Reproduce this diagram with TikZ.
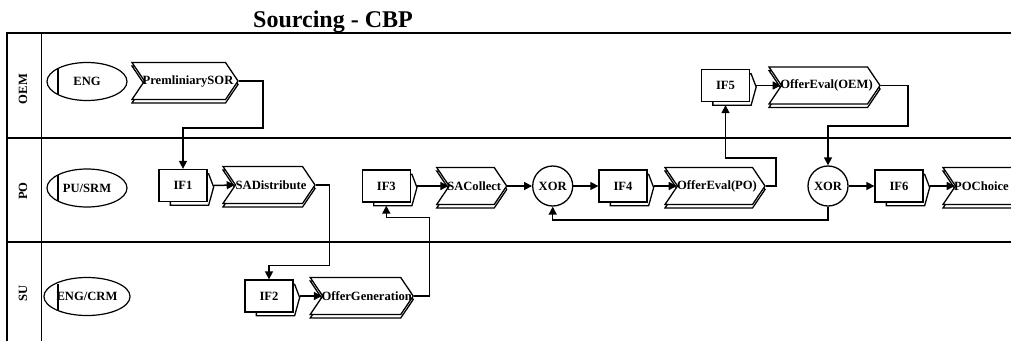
\documentclass[tikz,border=0pt]{standalone}
\usepackage{fontspec}
\setmainfont{Liberation Serif}
\usetikzlibrary{shapes.symbols,shapes.geometric,shadows,arrows.meta,calc}
\pgfdeclarelayer{background}
\pgfsetlayers{background,main}
\tikzset{
  nodefont/.style={font=\fontsize{12.6}{12.6}\selectfont\bfseries},
  frame/.style={line width=1.8pt},
  role/.style={ellipse, draw, line width=1.2pt, minimum width=80pt, minimum height=38pt, inner sep=0pt, nodefont},
  chord/.style={line width=1.2pt},
  chev/.style={signal, signal from=west, signal to=east, signal pointer angle=112, draw, line width=1.3pt, fill=white,
    minimum height=37pt, inner sep=0pt, nodefont,
    drop shadow={shadow xshift=0pt, shadow yshift=-3.5pt, fill=white, draw=black, line width=1.3pt, opacity=1}},
  ifbox/.style={rectangle, draw, fill=white, line width=1.3pt, minimum width=48pt, minimum height=32pt, inner sep=0pt, nodefont},
  ifback/.style={draw, fill=white, line width=1.3pt},
  xor/.style={circle, draw, fill=white, line width=1.3pt, minimum size=40pt, inner sep=0pt, nodefont},
  conn/.style={line width=1.5pt, -{Triangle[length=8pt,width=8pt]}},
}
\begin{document}
\begin{tikzpicture}[x=1pt,y=-1pt]
\useasboundingbox (0,0) rectangle (1011,341);
% title
\node[font=\fontsize{24}{24}\selectfont\bfseries, anchor=base west, inner sep=0pt] (title) at (253,27) {Sourcing - CBP};
% pool frame
\draw[frame] (1011,33) -- (7,33) -- (7,341);
\draw[frame] (41.5,33) -- (41.5,341);
\draw[frame] (7,138) -- (1011,138);
\draw[frame] (7,242) -- (1011,242);
% lane labels
\node[nodefont, rotate=90] (lOEM) at (23,89) {OEM};
\node[nodefont, rotate=90] (lPO) at (23,191) {PO};
\node[nodefont, rotate=90] (lSU) at (23,293) {SU};
% roles
\node[role] (eng) at (87,81.5) {ENG};
\node[role] (pusrm) at (87,188) {PU/SRM};
\node[role] (engcrm) at (87,296.5) {ENG/CRM};
\foreach \r in {eng,pusrm,engcrm}{
  \draw[chord] ($(\r.center)+(-29,-13)$) -- ($(\r.center)+(-29,13)$);
}
% functions
\node[chev, minimum width=106pt] (prelim) at (185,81) {\makebox[0pt]{\hspace*{6pt}PremliniarySOR}};
\node[chev, minimum width=92pt] (sadist) at (269,185) {\makebox[0pt]{\hspace*{4pt}SADistribute}};
\node[chev, minimum width=103pt] (offergen) at (361.7,296) {\makebox[0pt]{\hspace*{10pt}OfferGeneration}};
\node[chev, minimum width=70pt] (sacollect) at (471.7,186) {\makebox[0pt]{\hspace*{5pt}SACollect}};
\node[chev, minimum width=100pt] (evalpo) at (715,186) {\makebox[0pt]{\hspace*{4pt}OfferEval(PO)}};
\node[chev, minimum width=111pt] (evaloem) at (824.5,85.5) {\makebox[0pt]{\hspace*{4pt}OfferEval(OEM)}};
\node[chev, minimum width=86pt] (pochoice) at (986,186) {\makebox[0pt]{POChoice\hspace*{9pt}}};
% interfaces
\node[ifbox] (if1) at (183,185.5) {IF1};
\node[ifbox] (if2) at (269,296) {IF2};
\node[ifbox] (if3) at (386.3,186) {IF3};
\node[ifbox] (if4) at (623,186) {IF4};
\node[ifbox] (if5) at (725.5,85.5) {IF5};
\node[ifbox] (if6) at (899,186) {IF6};
\begin{pgfonlayer}{background}
\foreach \n in {if1,if2,if3,if4,if5,if6}{
  \draw[ifback] ($(\n.north west)+(12,5)$) -- ($(\n.north east)+(1,5)$) -- ($(\n.east)+(6,1.5)$)
     -- ($(\n.south east)+(1,3)$) -- ($(\n.south west)+(12,3)$) -- cycle;
}
\end{pgfonlayer}
% gateways
\node[xor] (xor1) at (552.7,186) {XOR};
\node[xor] (xor2) at (828,186) {XOR};
% bend points
\coordinate (b1) at (263,128);
\coordinate (b2) at (329.3,265.7);
\coordinate (b3) at (429.3,217.3);
\coordinate (b4) at (776,158);
\coordinate (b5) at (908,126);
\coordinate (b6) at (828,220);
% connectors
\draw[conn] (prelim.east) -| (b1) -| (if1.north);
\draw[conn] ($(if1.east)+(6,0)$) -- (sadist.west);
\draw[conn] (sadist.east) -| (b2) -| (if2.north);
\draw[conn] ($(if2.east)+(6,0)$) -- (offergen.west);
\draw[conn] (offergen.east) -| (b3) -| ($(if3.south)+(0,3)$);
\draw[conn] ($(if3.east)+(6,0)$) -- (sacollect.west);
\draw[conn] (sacollect.east) -- (xor1.west);
\draw[conn] (xor1.east) -- (if4.west);
\draw[conn] ($(if4.east)+(6,0)$) -- (evalpo.west);
\draw[conn] (evalpo.east) -| (b4) -| ($(if5.south)+(0,3)$);
\draw[conn] ($(if5.east)+(6,0)$) -- (evaloem.west);
\draw[conn] (evaloem.east) -| (b5) -| (xor2.north);
\draw[conn] (xor2.east) -- (if6.west);
\draw[conn] ($(if6.east)+(6,0)$) -- (pochoice.west);
\draw[conn] (xor2.south) -- (b6) -| (xor1.south);
\end{tikzpicture}
\end{document}
